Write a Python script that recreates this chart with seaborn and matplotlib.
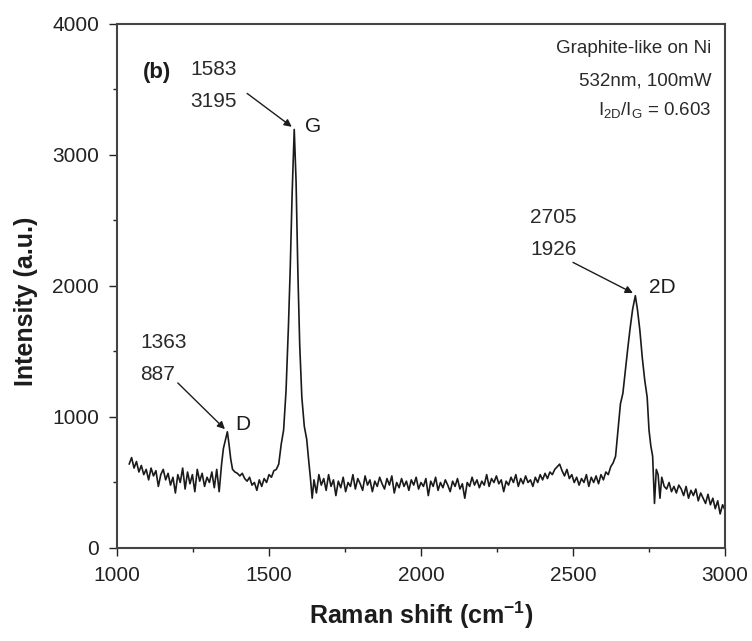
import matplotlib
matplotlib.use("Agg")
import matplotlib.pyplot as plt
import seaborn as sns
from matplotlib.ticker import MultipleLocator

# ---------------- data ----------------
shift_left = [1040, 1048, 1056, 1064, 1072, 1080, 1088, 1096, 1104, 1112, 1120, 1128,
              1136, 1144, 1152, 1160, 1168, 1176, 1184, 1192, 1200, 1208, 1216, 1224,
              1232, 1240, 1248, 1256, 1264, 1272, 1280, 1288, 1296, 1304, 1312, 1320,
              1328, 1336]
int_left = [640, 690, 610, 660, 580, 630, 560, 600, 520, 610, 550, 590,
            470, 560, 600, 520, 570, 480, 540, 420, 560, 500, 610, 450,
            580, 490, 560, 430, 600, 510, 570, 470, 540, 500, 580, 460,
            600, 430]

shift_dg = [1344, 1350, 1356, 1363, 1368, 1374, 1380, 1388, 1396, 1404, 1412, 1420,
            1428, 1436, 1444, 1452, 1460, 1468, 1476, 1484, 1492, 1500, 1508, 1516,
            1524, 1532, 1540, 1548, 1556, 1564, 1570, 1576, 1583, 1589, 1595, 1601,
            1608, 1616, 1624, 1630, 1636, 1642, 1648, 1656, 1664, 1672, 1680, 1688,
            1696, 1704]
int_dg = [640, 760, 820, 887, 800, 680, 600, 580, 570, 550, 570, 530,
          510, 540, 480, 500, 440, 520, 470, 530, 500, 560, 540, 590,
          600, 640, 790, 900, 1200, 1700, 2150, 2700, 3195, 2800, 2100, 1550,
          1150, 930, 830, 680, 540, 380, 520, 420, 560, 480, 530, 440,
          560, 470]

shift_mid = [1712, 1720, 1728, 1736, 1744, 1752, 1760, 1768, 1776, 1784, 1792, 1800,
             1808, 1816, 1824, 1832, 1840, 1848, 1856, 1864, 1872, 1880, 1888, 1896,
             1904, 1912, 1920, 1928, 1936, 1944, 1952, 1960, 1968, 1976, 1984, 1992,
             2000, 2008, 2016, 2024, 2032, 2040, 2048, 2056, 2064, 2072, 2080, 2088,
             2096, 2104, 2112, 2120, 2128, 2136, 2144, 2152, 2160, 2168, 2176, 2184,
             2192, 2200, 2208, 2216, 2224, 2232, 2240, 2248, 2256, 2264, 2272, 2280,
             2288, 2296, 2304, 2312, 2320, 2328, 2336, 2344, 2352, 2360, 2368, 2376,
             2384, 2392, 2400]
int_mid = [520, 400, 510, 460, 540, 430, 500, 470, 560, 450, 530, 490,
           440, 550, 480, 520, 430, 510, 470, 540, 490, 450, 530, 480,
           550, 420, 500, 460, 530, 470, 510, 440, 520, 480, 540, 450,
           500, 470, 530, 400, 510, 470, 540, 440, 500, 460, 520, 480,
           430, 510, 470, 530, 450, 490, 380, 500, 470, 540, 480, 520,
           460, 510, 480, 560, 470, 530, 500, 550, 490, 520, 430, 510,
           480, 540, 500, 560, 470, 530, 490, 550, 500, 520, 470, 540,
           500, 560, 520]

shift_right = [2408, 2416, 2424, 2432, 2440, 2448, 2456, 2464, 2472, 2480, 2488, 2496,
               2504, 2512, 2520, 2528, 2536, 2544, 2552, 2560, 2568, 2576, 2584, 2592,
               2600, 2608, 2616, 2624, 2632, 2640, 2648, 2656, 2664, 2672, 2680, 2688,
               2696, 2705, 2712, 2720, 2728, 2736, 2744, 2750, 2756, 2762, 2768, 2774,
               2780, 2786, 2792, 2800, 2808, 2816, 2824, 2832, 2840, 2848, 2856, 2864,
               2872, 2880, 2888, 2896, 2904, 2912, 2920, 2928, 2936, 2944, 2952, 2960,
               2968, 2976, 2984, 2992, 3000]
int_right = [570, 530, 580, 560, 600, 620, 640, 590, 550, 600, 530, 560,
             500, 540, 480, 530, 500, 560, 470, 540, 500, 550, 490, 560,
             520, 580, 560, 620, 650, 700, 900, 1100, 1180, 1350, 1520, 1680,
             1820, 1926, 1820, 1660, 1450, 1280, 1150, 900, 780, 700, 340, 600,
             560, 380, 540, 470, 450, 500, 430, 470, 420, 480, 450, 400,
             470, 380, 440, 400, 450, 360, 420, 380, 340, 410, 330, 380,
             300, 360, 260, 330, 290]

raman_shift = shift_left + shift_dg + shift_mid + shift_right
intensity = int_left + int_dg + int_mid + int_right

peak_names = ["D", "G", "2D"]
peak_shift = [1363, 1583, 2705]
peak_int = [887, 3195, 1926]

x_ticks = [1000, 1500, 2000, 2500, 3000]
y_ticks = [0, 1000, 2000, 3000, 4000]

# ---------------- style ----------------
sns.set_style("ticks")
plt.rcParams["font.family"] = ["Liberation Sans", "DejaVu Sans"]
plt.rcParams["mathtext.fontset"] = "custom"
plt.rcParams["mathtext.rm"] = "Liberation Sans"
plt.rcParams["mathtext.it"] = "Liberation Sans"
plt.rcParams["mathtext.bf"] = "Liberation Sans:bold"

fig = plt.figure(figsize=(7.52, 6.41), dpi=100)
ax = fig.add_axes([0.1556, 0.1451, 0.8085, 0.8175])

sns.lineplot(x=raman_shift, y=intensity, ax=ax, color="#1a1a1a",
             linewidth=1.2, estimator=None, sort=False)

ax.set_xlim(1000, 3000)
ax.set_ylim(0, 4000)
ax.set_xticks(x_ticks)
ax.set_yticks(y_ticks)
ax.xaxis.set_minor_locator(MultipleLocator(250))
ax.yaxis.set_minor_locator(MultipleLocator(500))
ax.tick_params(which="major", direction="out", length=6, width=1.0,
               labelsize=15, pad=7, colors="#222222")
ax.tick_params(which="minor", direction="out", length=3, width=1.0, colors="#222222")
for s in ax.spines.values():
    s.set_linewidth(1.5)
    s.set_color("#444444")

ax.set_xlabel("Raman shift (cm$^{\\mathbf{-1}}$)", fontsize=18, fontweight="bold",
              color="#1c1c1c", va="center")
ax.set_ylabel("Intensity (a.u.)", fontsize=18, fontweight="bold", color="#1c1c1c",
              va="center")
ax.xaxis.set_label_coords(0.5, -0.128)
ax.yaxis.set_label_coords(-0.15, 0.47)

# panel letter and legend text
ax.text(1085, 3630, "(b)", fontsize=16, fontweight="bold", va="center", ha="left",
        color="#1c1c1c")
ax.text(2955, 3810, "Graphite-like on Ni", fontsize=13.5, ha="right", va="center",
        color="#2a2a2a")
ax.text(2955, 3565, "532nm, 100mW", fontsize=13.5, ha="right", va="center",
        color="#2a2a2a")
ax.text(2955, 3340, "I$_{2D}$/I$_{G}$ = 0.603", fontsize=13.5, ha="right", va="center",
        color="#2a2a2a")

# peak annotations
label_pos = {"D": (1076, 1570), "G": (1240, 3650), "2D": (2360, 2520)}
arrow_start = {"D": (1200, 1260), "G": (1428, 3470), "2D": (2500, 2180)}
name_pos = {"D": (1390, 940), "G": (1620, 3215), "2D": (2750, 1985)}
for name, px, py in zip(peak_names, peak_shift, peak_int):
    lx, ly = label_pos[name]
    ax.text(lx, ly, f"{px}", fontsize=15, ha="left", va="center", color="#2a2a2a")
    ax.text(lx, ly - 245, f"{py}", fontsize=15, ha="left", va="center", color="#2a2a2a")
    ax.annotate("", xy=(px - 8, py + 20), xytext=arrow_start[name],
                arrowprops=dict(arrowstyle="-|>", color="#1c1c1c", lw=1.0,
                                mutation_scale=11, shrinkA=0, shrinkB=0))
    nx, ny = name_pos[name]
    ax.text(nx, ny, name, fontsize=15, ha="left", va="center", color="#1c1c1c")

fig.savefig("out.png", dpi=100)
